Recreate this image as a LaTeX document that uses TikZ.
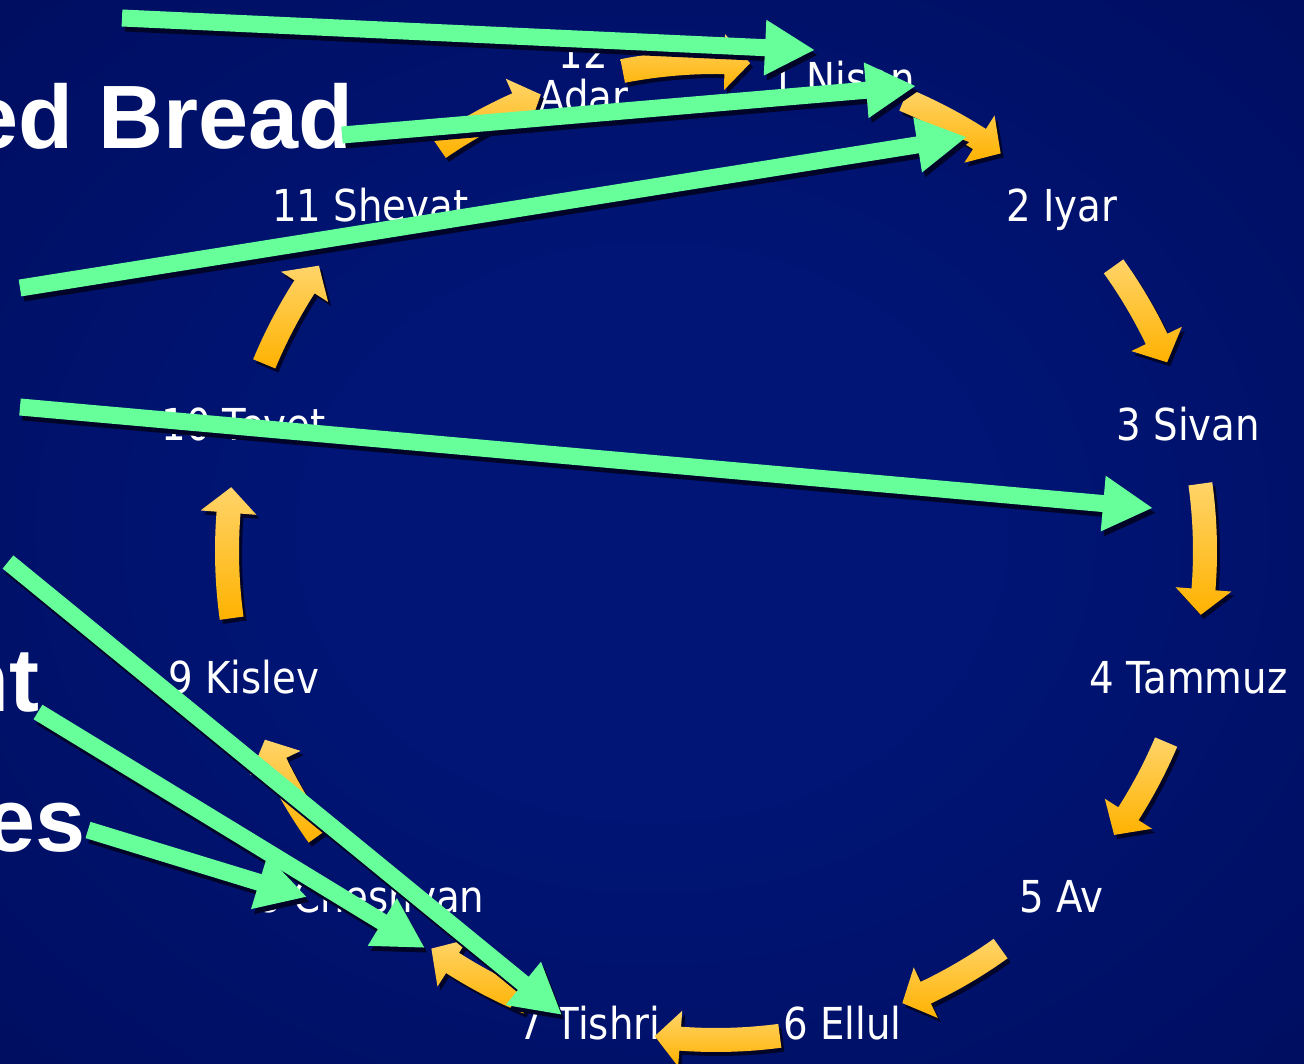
\documentclass[tikz,border=0pt]{standalone}
\usepackage{fontspec}
\setmainfont{Liberation Sans}
\newfontfamily\monthfont[FakeStretch=0.88]{DejaVu Sans}
\usetikzlibrary{arrows.meta}

\definecolor{bgin}{RGB}{0,21,118}
\definecolor{bgout}{RGB}{0,6,72}
\definecolor{ylight}{RGB}{255,212,105}
\definecolor{ydark}{RGB}{255,178,0}
\definecolor{pointergreen}{RGB}{102,255,153}
\definecolor{shadowblue}{RGB}{0,4,40}
\pgfdeclareradialshading{slidebg}{\pgfpoint{0bp}{0bp}}{color(0bp)=(bgin); color(12bp)=(bgin); color(62bp)=(bgout)}

% curved block arrow on the month circle, from angle #1 clockwise to angle #2
\newcommand\cycleArrow[2]{%
  \pgfmathsetmacro\headang{#2+3}
  \fill[shadowblue,shift={(3pt,-4pt)}] (#1:501) arc[start angle=#1,end angle=\headang,radius=501] -- (\headang:517) -- (#2:489) -- (\headang:461) -- (\headang:477) arc[start angle=\headang,end angle=#1,radius=477] -- cycle;
  \shade[top color=ylight,bottom color=ydark] (#1:501) arc[start angle=#1,end angle=\headang,radius=501] -- (\headang:517) -- (#2:489) -- (\headang:461) -- (\headang:477) arc[start angle=\headang,end angle=#1,radius=477] -- cycle;
}

\begin{document}
\begin{tikzpicture}[x=1pt,y=1pt,
  month/.style={text=white,inner sep=0pt,font=\monthfont\fontsize{44}{44}\selectfont},
  feast/.style={text=white,inner sep=0pt,font=\bfseries\fontsize{90}{90}\selectfont},
  pointer/.style={draw=pointergreen,line width=17pt,-{Triangle[length=50pt,width=52pt]}},
  pointer shadow/.style={pointer,draw=shadowblue}]
\useasboundingbox (0,0) rectangle (1304,-1064);
\clip (0,0) rectangle (1304,-1064);
\shade[shading=slidebg] (0,0) rectangle (1304,-1064);

\node[feast,anchor=base east] (unleavened) at (354,-149) {ed Bread};
\node[feast,anchor=base east] (atonement) at (40,-711) {nt};
\node[feast,anchor=base east] (tabernacles) at (86,-851) {es};

\begin{scope}[shift={(716,-551)}]
\foreach \ang/\nm/\txt in {75/nisan/1 Nisan,45/iyar/2 Iyar,15/sivan/3 Sivan,-15/tammuz/4 Tammuz,-45/av/5 Av,-75/ellul/6 Ellul,-105/tishri/7 Tishri,-135/cheshvan/8 Cheshvan,-165/kislev/9 Kislev,165/tevet/10 Tevet,135/shevat/11 Shevat}
  \node[month,anchor=base,yshift=-16pt] (\nm) at (\ang:489) {\txt};
\node[month,align=center,xshift=-6pt,yshift=4pt] (adar) at (105:489) {12\\Adar};
\foreach \s/\e in {101/86,67.4/54.4,35.6/22.7,7.9/-7.5,-23/-35.5,-54.4/-67.6,-82.5/-97.2,-112.6/-125.6,-144.4/-157.3,-172.1/-187.5,157.5/144.3,124.5/111}
  {\cycleArrow{\s}{\e}}
\end{scope}

\coordinate (src1) at (122,-18);  \coordinate (dst1) at (815,-50);
\coordinate (src2) at (342,-135); \coordinate (dst2) at (916,-86);
\coordinate (src3) at (20,-288);  \coordinate (dst3) at (967,-137);
\coordinate (src4) at (20,-407);  \coordinate (dst4) at (1153,-508);
\coordinate (src5) at (8,-562);   \coordinate (dst5) at (562,-1015);
\coordinate (src6) at (38,-712);  \coordinate (dst6) at (425,-948);
\coordinate (src7) at (88,-830);  \coordinate (dst7) at (307,-897);
\foreach \i in {1,...,7}{
  \draw[pointer shadow] ([xshift=3pt,yshift=-5pt]src\i) -- ([xshift=3pt,yshift=-5pt]dst\i);
  \draw[pointer] (src\i) -- (dst\i);
}
\end{tikzpicture}
\end{document}
